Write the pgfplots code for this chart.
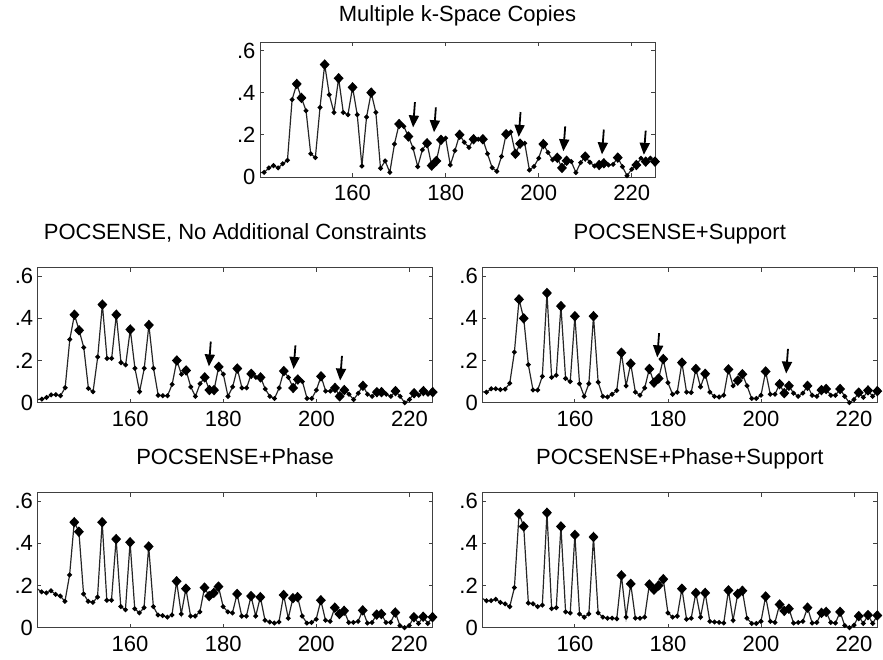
\documentclass[border=0pt]{standalone}
\usepackage{pgfplots}
\usepackage{pgfplotstable}
\usepackage{fontspec}
\setmainfont{Liberation Sans}
\pgfplotsset{compat=1.18}
\usetikzlibrary{arrows.meta}

% x, marker class (a = dot, d = diamond), then one column per panel
\pgfplotstableread{
x   c t     ml    mr    bl    br
140 a 0.020 0.015 0.052 0.185 0.140
141 a 0.022 0.017 0.050 0.170 0.128
142 a 0.043 0.025 0.066 0.165 0.128
143 a 0.054 0.037 0.066 0.175 0.135
144 a 0.043 0.038 0.062 0.158 0.120
145 a 0.063 0.033 0.064 0.150 0.113
146 a 0.079 0.071 0.092 0.125 0.100
147 a 0.367 0.300 0.240 0.250 0.190
148 d 0.441 0.417 0.490 0.500 0.540
149 d 0.375 0.343 0.400 0.455 0.480
150 a 0.314 0.262 0.180 0.160 0.117
151 a 0.110 0.068 0.060 0.125 0.113
152 a 0.092 0.052 0.060 0.120 0.100
153 a 0.330 0.217 0.125 0.145 0.107
154 d 0.533 0.465 0.520 0.500 0.545
155 a 0.390 0.210 0.120 0.130 0.090
156 a 0.306 0.210 0.130 0.130 0.095
157 d 0.468 0.417 0.458 0.420 0.480
158 a 0.306 0.190 0.115 0.100 0.075
159 a 0.295 0.179 0.100 0.085 0.070
160 d 0.425 0.347 0.410 0.405 0.440
161 a 0.295 0.163 0.090 0.090 0.065
162 a 0.052 0.052 0.030 0.070 0.050
163 a 0.284 0.163 0.090 0.095 0.065
164 d 0.400 0.368 0.410 0.385 0.430
165 a 0.306 0.163 0.097 0.100 0.070
166 a 0.041 0.035 0.030 0.060 0.050
167 a 0.076 0.033 0.027 0.057 0.045
168 a 0.022 0.033 0.040 0.050 0.045
169 a 0.156 0.087 0.058 0.060 0.042
170 d 0.251 0.200 0.237 0.220 0.248
171 a 0.240 0.135 0.080 0.065 0.050
172 d 0.192 0.153 0.185 0.185 0.208
173 a 0.137 0.075 0.050 0.055 0.045
174 a 0.049 0.030 0.035 0.055 0.045
175 a 0.129 0.090 0.070 0.075 0.050
176 d 0.160 0.120 0.160 0.190 0.205
177 d 0.054 0.060 0.095 0.150 0.180
178 d 0.076 0.060 0.115 0.165 0.200
179 d 0.176 0.170 0.207 0.195 0.230
180 a 0.184 0.135 0.095 0.100 0.070
181 a 0.057 0.030 0.040 0.075 0.050
182 a 0.125 0.075 0.050 0.070 0.055
183 d 0.200 0.162 0.190 0.160 0.185
184 a 0.165 0.070 0.050 0.055 0.040
185 a 0.140 0.070 0.048 0.055 0.045
186 d 0.179 0.137 0.160 0.150 0.165
187 a 0.179 0.120 0.075 0.055 0.050
188 d 0.179 0.120 0.137 0.145 0.165
189 a 0.110 0.065 0.050 0.035 0.030
190 a 0.044 0.030 0.030 0.027 0.027
191 a 0.027 0.020 0.027 0.022 0.025
192 a 0.097 0.070 0.035 0.027 0.022
193 d 0.203 0.150 0.158 0.155 0.177
194 a 0.213 0.120 0.080 0.045 0.035
195 d 0.110 0.070 0.105 0.140 0.160
196 d 0.158 0.110 0.135 0.145 0.175
197 a 0.160 0.100 0.080 0.055 0.045
198 a 0.033 0.020 0.020 0.022 0.020
199 a 0.050 0.020 0.020 0.025 0.020
200 a 0.089 0.060 0.035 0.040 0.030
201 d 0.156 0.125 0.148 0.130 0.148
202 a 0.116 0.055 0.040 0.035 0.030
203 a 0.081 0.055 0.040 0.030 0.025
204 d 0.091 0.070 0.088 0.095 0.110
205 d 0.043 0.030 0.045 0.065 0.080
206 d 0.077 0.060 0.080 0.080 0.090
207 a 0.073 0.040 0.045 0.025 0.022
208 a 0.021 0.015 0.030 0.025 0.025
209 a 0.068 0.045 0.045 0.030 0.030
210 d 0.097 0.080 0.080 0.082 0.095
211 a 0.070 0.040 0.035 0.022 0.022
212 a 0.052 0.030 0.030 0.025 0.025
213 d 0.057 0.050 0.060 0.062 0.070
214 d 0.065 0.050 0.065 0.065 0.075
215 a 0.057 0.040 0.035 0.025 0.025
216 a 0.060 0.030 0.035 0.025 0.022
217 d 0.092 0.055 0.065 0.072 0.075
218 a 0.049 0.030 0.030 0.010 0.010
219 a 0.006 0.000 0.000 0.000 0.000
220 a 0.037 0.015 0.015 0.010 0.012
221 d 0.057 0.045 0.048 0.050 0.055
222 a 0.089 0.035 0.025 0.020 0.020
223 d 0.073 0.055 0.058 0.052 0.060
224 a 0.089 0.040 0.030 0.020 0.020
225 d 0.073 0.050 0.055 0.050 0.058
}\data

\tikzset{pointer/.style={line width=1.8pt, -{Triangle[width=10pt,length=12pt]}}}

\pgfplotsset{
  panel/.style={
    scale only axis, width=395pt, height=135pt,
    anchor=south west,
    xmin=140.1, xmax=225, ymin=0, ymax=0.64,
    xtick={160,180,200,220},
    ytick={0,0.2,0.4,0.6}, yticklabels={0,.2,.4,.6},
    tick align=inside, xtick pos=both, ytick pos=both,
    major tick length=4pt,
    axis line style={black!75, line width=0.9pt},
    every tick/.style={black!75, line width=0.8pt},
    /pgf/number format/assume math mode=true,
    /pgf/number format/1000 sep={},
    tick label style={font=\fontsize{22}{25}\selectfont},
    xticklabel style={yshift=-5pt},
    yticklabel style={xshift=-1pt},
    title style={font=\fontsize{22}{25}\selectfont, at={(0.5,1)}, anchor=base, yshift=22pt},
  },
  trace/.style={
    black!85, line width=1.2pt,
    scatter, scatter src=explicit symbolic,
    scatter/classes={
      a={mark=*, mark size=1.8pt, black},
      d={mark=diamond*, mark size=4.4pt, black, xscale=1.25}},
  },
}

\begin{document}
\begin{tikzpicture}
\path[use as bounding box] (0pt,0pt) rectangle (883pt,-660pt);

% top
\begin{axis}[panel, at={(260pt,-177pt)}, title={Multiple k-Space Copies}, title style={yshift=-8pt}]
\addplot[trace] table[x=x, y=t, meta=c] {\data};
\draw[pointer] (axis cs:173.4,0.355) -- (axis cs:173.0,0.235);
\draw[pointer] (axis cs:177.9,0.330) -- (axis cs:177.5,0.212);
\draw[pointer] (axis cs:196.1,0.308) -- (axis cs:195.7,0.190);
\draw[pointer] (axis cs:205.7,0.240) -- (axis cs:205.3,0.122);
\draw[pointer] (axis cs:214.0,0.225) -- (axis cs:213.6,0.107);
\draw[pointer] (axis cs:223.0,0.220) -- (axis cs:222.6,0.105);
\end{axis}

% middle left
\begin{axis}[panel, at={(37.7pt,-402.7pt)}, title={POCSENSE, No Additional Constraints}]
\addplot[trace] table[x=x, y=ml, meta=c] {\data};
\draw[pointer] (axis cs:177.3,0.290) -- (axis cs:176.9,0.172);
\draw[pointer] (axis cs:195.5,0.272) -- (axis cs:195.1,0.160);
\draw[pointer] (axis cs:205.5,0.222) -- (axis cs:205.1,0.105);
\end{axis}

% middle right
\begin{axis}[panel, at={(482.3pt,-402.7pt)}, title={POCSENSE+Support}]
\addplot[trace] table[x=x, y=mr, meta=c] {\data};
\draw[pointer] (axis cs:178.1,0.330) -- (axis cs:177.7,0.215);
\draw[pointer] (axis cs:205.8,0.255) -- (axis cs:205.4,0.138);
\end{axis}

% bottom left
\begin{axis}[panel, at={(37.5pt,-627.7pt)}, title={POCSENSE+Phase}]
\addplot[trace] table[x=x, y=bl, meta=c] {\data};
\end{axis}

% bottom right
\begin{axis}[panel, at={(482.3pt,-627.7pt)}, title={POCSENSE+Phase+Support}]
\addplot[trace] table[x=x, y=br, meta=c] {\data};
\end{axis}
\end{tikzpicture}
\end{document}
